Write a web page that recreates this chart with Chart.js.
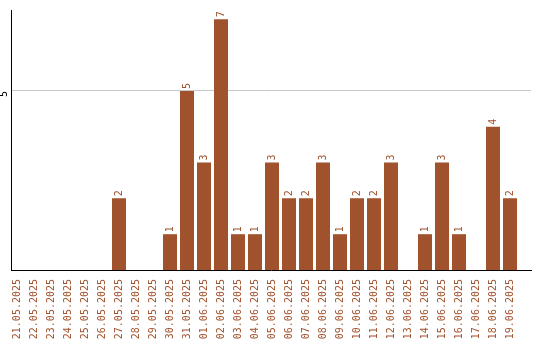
<!DOCTYPE html>
<html>
<head>
<meta charset="utf-8">
<script src="https://cdn.jsdelivr.net/npm/chart.js@4/dist/chart.umd.min.js"></script>
<style>
  html, body { margin: 0; padding: 0; background: #fff; }
  #wrap { width: 540px; height: 340px; }
</style>
</head>
<body>
<div id="wrap"><canvas id="chart"></canvas></div>
<script>
const dates = [
  '21.05.2025', '22.05.2025', '23.05.2025', '24.05.2025', '25.05.2025', '26.05.2025',
  '27.05.2025', '28.05.2025', '29.05.2025', '30.05.2025', '31.05.2025', '01.06.2025',
  '02.06.2025', '03.06.2025', '04.06.2025', '05.06.2025', '06.06.2025', '07.06.2025',
  '08.06.2025', '09.06.2025', '10.06.2025', '11.06.2025', '12.06.2025', '13.06.2025',
  '14.06.2025', '15.06.2025', '16.06.2025', '17.06.2025', '18.06.2025', '19.06.2025'
];
const counts = [0, 0, 0, 0, 0, 0, 2, 0, 0, 1, 5, 3, 7, 1, 1, 3, 2, 2, 3, 1, 2, 2, 3, 0, 1, 3, 1, 0, 4, 2];
const yTicks = [5];

const BROWN = '#a0522d';
const FONT = '10px "DejaVu Sans Mono", monospace';

// numbers above bars and the rotated y tick, drawn sideways like the original
const sideLabels = {
  id: 'sideLabels',
  afterDatasetsDraw(chart) {
    const ctx = chart.ctx;
    const meta = chart.getDatasetMeta(0);
    ctx.save();
    ctx.font = FONT;
    ctx.fillStyle = BROWN;
    ctx.textAlign = 'left';
    ctx.textBaseline = 'middle';
    meta.data.forEach((bar, i) => {
      if (!counts[i]) return;
      ctx.save();
      ctx.translate(bar.x, bar.y - 2);
      ctx.rotate(-Math.PI / 2);
      ctx.fillText(String(counts[i]), 0, 0);
      ctx.restore();
    });
    const y = chart.scales.y;
    ctx.fillStyle = '#000';
    ctx.textAlign = 'center';
    yTicks.forEach(v => {
      ctx.save();
      ctx.translate(4, y.getPixelForValue(v) + 3);
      ctx.rotate(-Math.PI / 2);
      ctx.fillText(String(v), 0, 0);
      ctx.restore();
    });
    ctx.restore();
  }
};

new Chart(document.getElementById('chart'), {
  type: 'bar',
  data: {
    datasets: [{
      data: counts.map((v, i) => ({ x: i, y: v })),
      backgroundColor: BROWN,
      borderWidth: 0,
      barPercentage: 0.8235,
      categoryPercentage: 1.0
    }]
  },
  options: {
    responsive: true,
    maintainAspectRatio: false,
    animation: false,
    layout: { padding: { top: 10, right: 9, left: 0, bottom: 0 } },
    plugins: { legend: { display: false }, tooltip: { enabled: false } },
    scales: {
      x: {
        type: 'linear',
        offset: false,
        min: -0.353,
        max: 30.235,
        afterBuildTicks(axis) { axis.ticks = dates.map((d, i) => ({ value: i })); },
        grid: { display: false },
        border: { color: '#000', width: 1 },
        ticks: {
          color: BROWN,
          font: { family: '"DejaVu Sans Mono", monospace', size: 10 },
          minRotation: 90,
          maxRotation: 90,
          autoSkip: false,
          padding: 1,
          callback: v => dates[v]
        },
        afterFit(scale) { scale.height = 70; }
      },
      y: {
        min: 0,
        max: 7.26,
        afterBuildTicks(axis) { axis.ticks = yTicks.map(v => ({ value: v })); },
        grid: { color: '#c8c8c8', drawTicks: false },
        border: { color: '#000', width: 1 },
        ticks: { display: false },
        afterFit(scale) { scale.width = 11; }
      }
    }
  },
  plugins: [sideLabels]
});
</script>
</body>
</html>
